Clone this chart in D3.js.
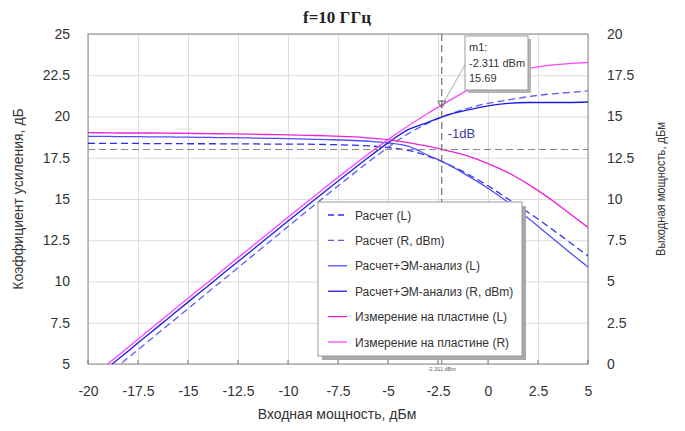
<!DOCTYPE html>
<html>
<head>
<meta charset="utf-8">
<script src="https://cdn.jsdelivr.net/npm/d3@7"></script>
<style>
  body { margin: 0; background: #fff; }
  svg { font-family: Arial, "Liberation Sans", sans-serif; }
</style>
</head>
<body>
<svg id="chart"></svg>
<script>
const width = 685;
const height = 431;

// input power, dBm
const pin = [-20, -19, -18, -17, -16, -15, -14, -13, -12, -11, -10, -9, -8,
    -7, -6, -5, -4, -3, -2, -1, 0, 1, 2, 3, 4, 5];

// Расчет (L) - gain, dB
const calcGain = [18.38, 18.37, 18.37, 18.36, 18.36, 18.35, 18.35, 18.34, 18.34, 18.33, 18.33, 18.32, 18.3,
    18.27, 18.22, 18.12, 17.95, 17.6, 17.1, 16.5, 15.8, 15.0, 14.2, 13.35, 12.45, 11.55];
// Расчет (R, dBm) - output power
const calcPout = [-1.62, -0.63, 0.37, 1.36, 2.36, 3.35, 4.35, 5.34, 6.34, 7.33, 8.33, 9.32, 10.3,
    11.27, 12.22, 13.12, 13.95, 14.6, 15.1, 15.5, 15.8, 16.0, 16.2, 16.35, 16.45, 16.55];
// Расчет+ЭМ-анализ (L)
const emGain = [18.8, 18.79, 18.78, 18.77, 18.76, 18.75, 18.73, 18.72, 18.7, 18.68, 18.66, 18.63, 18.6,
    18.56, 18.5, 18.4, 18.2, 17.65, 17.1, 16.4, 15.65, 14.8, 13.85, 12.85, 11.85, 10.88];
// Расчет+ЭМ-анализ (R, dBm)
const emPout = [-1.2, -0.21, 0.78, 1.77, 2.76, 3.75, 4.73, 5.72, 6.7, 7.68, 8.66, 9.63, 10.6,
    11.56, 12.5, 13.4, 14.2, 14.65, 15.1, 15.4, 15.65, 15.8, 15.85, 15.85, 15.85, 15.88];
// Измерение на пластине (L)
const measGain = [19.02, 19.01, 19.0, 19.0, 18.99, 18.98, 18.96, 18.95, 18.93, 18.91, 18.89, 18.86, 18.83,
    18.78, 18.71, 18.6, 18.42, 18.2, 17.92, 17.6, 17.15, 16.6, 15.9, 15.1, 14.2, 13.28];
// Измерение на пластине (R)
const measPout = [-0.98, 0.01, 1.0, 2.0, 2.99, 3.98, 4.96, 5.95, 6.93, 7.91, 8.89, 9.86, 10.83,
    11.78, 12.71, 13.6, 14.42, 15.2, 15.92, 16.6, 17.15, 17.6, 17.9, 18.1, 18.2, 18.28];

const xTicks = [-20, -17.5, -15, -12.5, -10, -7.5, -5, -2.5, 0, 2.5, 5];
const yLeftTicks = [5, 7.5, 10, 12.5, 15, 17.5, 20, 22.5, 25];
const yRightTicks = [0, 2.5, 5, 7.5, 10, 12.5, 15, 17.5, 20];

const marker = { x: -2.311, y: 15.69 };
const compressionLevel = 18.0;

const series = [
    { name: "Расчет (L)", values: calcGain, axis: "L", color: "#2e2ef2", dash: "7,4" },
    { name: "Расчет (R, dBm)", values: calcPout, axis: "R", color: "#5c5cf5", dash: "7,4" },
    { name: "Расчет+ЭМ-анализ (L)", values: emGain, axis: "L", color: "#4f4fff", dash: null },
    { name: "Расчет+ЭМ-анализ (R, dBm)", values: emPout, axis: "R", color: "#1c1ce0", dash: null },
    { name: "Измерение на пластине (L)", values: measGain, axis: "L", color: "#f020d8", dash: null },
    { name: "Измерение на пластине (R)", values: measPout, axis: "R", color: "#ff45ff", dash: null }
];

const svg = d3.select("#chart")
    .attr("width", width)
    .attr("height", height);

const plotLeft = 88, plotRight = 588, plotTop = 34, plotBottom = 364;

const x = d3.scaleLinear().domain([-20, 5]).range([plotLeft, plotRight]);
const yL = d3.scaleLinear().domain([5, 25]).range([plotBottom, plotTop]);
const yR = d3.scaleLinear().domain([0, 20]).range([plotBottom, plotTop]);

const fmt = d => String(d);

// grid
svg.append("g")
    .attr("transform", `translate(0,${plotBottom})`)
    .call(d3.axisBottom(x).tickValues(xTicks).tickSize(-(plotBottom - plotTop)).tickFormat(""))
    .call(g => g.select(".domain").remove())
    .selectAll("line").attr("stroke", "#dcdcdc");
svg.append("g")
    .attr("transform", `translate(${plotLeft},0)`)
    .call(d3.axisLeft(yL).tickValues(yLeftTicks).tickSize(-(plotRight - plotLeft)).tickFormat(""))
    .call(g => g.select(".domain").remove())
    .selectAll("line").attr("stroke", "#dcdcdc");

// frame
svg.append("rect")
    .attr("x", plotLeft).attr("y", plotTop)
    .attr("width", plotRight - plotLeft).attr("height", plotBottom - plotTop)
    .attr("fill", "none").attr("stroke", "#8a8a8a").attr("stroke-width", 1);

// small inner ticks on the bottom edge
svg.append("g").selectAll("line")
    .data(xTicks.concat([marker.x]))
    .join("line")
    .attr("x1", d => x(d)).attr("x2", d => x(d))
    .attr("y1", plotBottom).attr("y2", plotBottom - 4)
    .attr("stroke", "#777");

// axis tick labels
const tickFont = "Arial, 'Liberation Sans', sans-serif";
svg.append("g")
    .attr("transform", `translate(0,${plotBottom})`)
    .call(d3.axisBottom(x).tickValues(xTicks).tickSize(0).tickPadding(22).tickFormat(fmt))
    .call(g => g.select(".domain").remove())
    .selectAll("text").attr("font-size", 14).attr("fill", "#333").attr("font-family", tickFont);
svg.append("g")
    .attr("transform", `translate(${plotLeft},0)`)
    .call(d3.axisLeft(yL).tickValues(yLeftTicks).tickSize(0).tickPadding(18).tickFormat(fmt))
    .call(g => g.select(".domain").remove())
    .selectAll("text").attr("font-size", 14).attr("fill", "#333").attr("font-family", tickFont);
svg.append("g")
    .attr("transform", `translate(${plotRight},0)`)
    .call(d3.axisRight(yR).tickValues(yRightTicks).tickSize(0).tickPadding(19).tickFormat(fmt))
    .call(g => g.select(".domain").remove())
    .selectAll("text").attr("font-size", 14).attr("fill", "#333").attr("font-family", tickFont);

// titles
svg.append("text")
    .attr("x", 337).attr("y", 23)
    .attr("text-anchor", "middle")
    .attr("font-family", "'Liberation Serif', 'Times New Roman', serif")
    .attr("font-weight", "bold")
    .attr("font-size", 17)
    .attr("fill", "#222")
    .text("f=10 ГГц");

svg.append("text")
    .attr("x", 337).attr("y", 419)
    .attr("text-anchor", "middle")
    .attr("font-size", 14).attr("fill", "#333")
    .text("Входная мощность, дБм");

svg.append("text")
    .attr("transform", "translate(23,199) rotate(-90)")
    .attr("text-anchor", "middle")
    .attr("font-size", 14).attr("fill", "#333")
    .text("Коэффициент усиления, дБ");

svg.append("text")
    .attr("transform", "translate(665,189) rotate(-90)")
    .attr("text-anchor", "middle")
    .attr("font-size", 13.5).attr("fill", "#333")
    .attr("textLength", 134).attr("lengthAdjust", "spacingAndGlyphs")
    .text("Выходная мощность, дБм");

// curves
svg.append("clipPath").attr("id", "plot-clip")
    .append("rect")
    .attr("x", plotLeft).attr("y", plotTop)
    .attr("width", plotRight - plotLeft).attr("height", plotBottom - plotTop);

const plot = svg.append("g").attr("clip-path", "url(#plot-clip)");

series.forEach(s => {
    const yScale = s.axis === "L" ? yL : yR;
    const line = d3.line()
        .x((d, i) => x(pin[i]))
        .y(d => yScale(d))
        .curve(d3.curveMonotoneX);
    plot.append("path")
        .datum(s.values)
        .attr("d", line)
        .attr("fill", "none")
        .attr("stroke", s.color)
        .attr("stroke-width", 1.3)
        .attr("stroke-dasharray", s.dash);
});

// -1dB line and marker line
plot.append("line")
    .attr("x1", plotLeft).attr("x2", plotRight)
    .attr("y1", yL(compressionLevel)).attr("y2", yL(compressionLevel))
    .attr("stroke", "#888").attr("stroke-width", 1.2).attr("stroke-dasharray", "7,4");
plot.append("line")
    .attr("x1", x(marker.x)).attr("x2", x(marker.x))
    .attr("y1", plotTop).attr("y2", plotBottom)
    .attr("stroke", "#555").attr("stroke-width", 1).attr("stroke-dasharray", "7,4");

svg.append("text")
    .attr("x", x(marker.x) + 6).attr("y", yL(compressionLevel) - 12)
    .attr("font-size", 13).attr("fill", "#3a3a96")
    .text("-1dB");

svg.append("text")
    .attr("x", x(marker.x)).attr("y", plotBottom + 7)
    .attr("text-anchor", "middle")
    .attr("font-size", 5.5).attr("fill", "#555")
    .text("-2.311 dBm");

// marker triangle and callout
const mx = x(marker.x), my = yR(marker.y);
svg.append("line")
    .attr("x1", mx + 2).attr("y1", my - 3)
    .attr("x2", 465).attr("y2", 65)
    .attr("stroke", "#999").attr("stroke-width", 0.8);
svg.append("path")
    .attr("d", `M${mx - 4},${my - 4} L${mx + 4},${my - 4} L${mx},${my + 3} Z`)
    .attr("fill", "none").attr("stroke", "#666").attr("stroke-width", 1);

const box = svg.append("g").attr("transform", "translate(465,36)");
box.append("rect").attr("x", 3).attr("y", 3).attr("width", 63).attr("height", 54).attr("fill", "#b5b5b5");
box.append("rect").attr("width", 63).attr("height", 54).attr("fill", "#fff").attr("stroke", "#999");
box.selectAll("text")
    .data(["m1:", "-2.311 dBm", String(marker.y)])
    .join("text")
    .attr("x", 4).attr("y", (d, i) => 15 + i * 15.5)
    .attr("font-size", 11).attr("fill", "#333")
    .text(d => d);

// legend
const legend = svg.append("g").attr("transform", "translate(318,202)");
legend.append("rect").attr("x", 4).attr("y", 4).attr("width", 204).attr("height", 154).attr("fill", "#a8a8a8");
legend.append("rect").attr("width", 204).attr("height", 154).attr("fill", "#fff").attr("stroke", "#999");
const item = legend.selectAll("g.item")
    .data(series)
    .join("g")
    .attr("class", "item")
    .attr("transform", (d, i) => `translate(0,${13 + i * 25.4})`);
item.append("line")
    .attr("x1", 10).attr("x2", 29)
    .attr("stroke", d => d.color).attr("stroke-width", 1.3)
    .attr("stroke-dasharray", d => d.dash ? "6,4" : null);
item.append("text")
    .attr("x", 37).attr("y", 4.5)
    .attr("font-size", 12).attr("fill", "#333")
    .text(d => d.name);
</script>
</body>
</html>
